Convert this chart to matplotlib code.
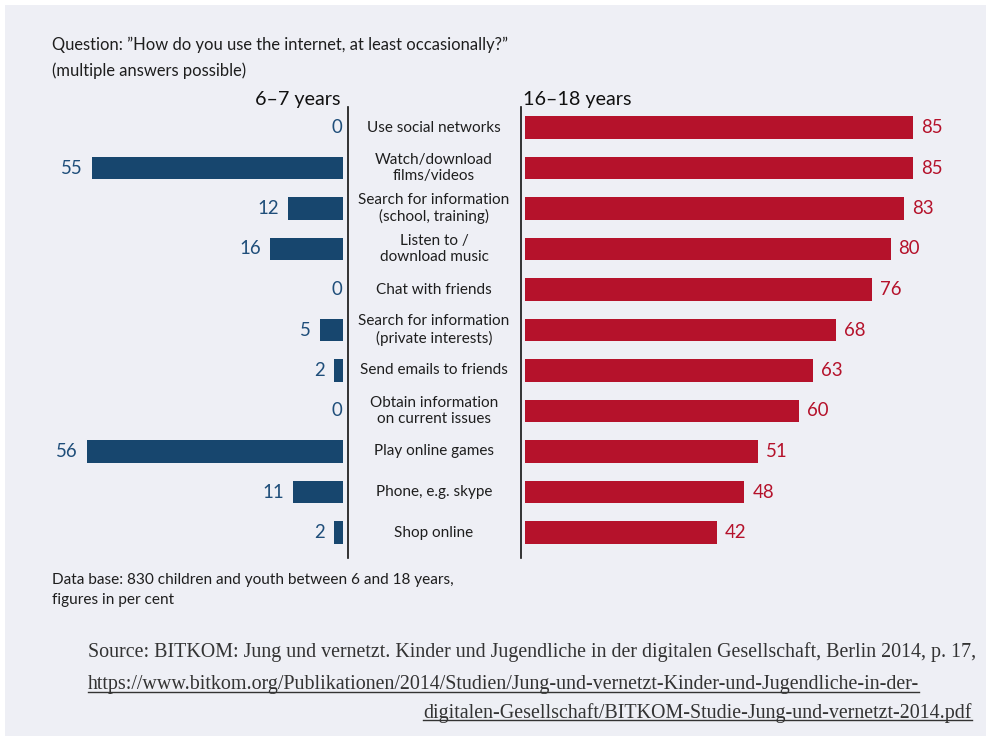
import matplotlib
matplotlib.use("Agg")
import matplotlib.pyplot as plt
from matplotlib.patches import Rectangle
from matplotlib.lines import Line2D
import matplotlib.transforms as mtransforms

# ---------------- data ----------------
categories = [
    "Use social networks",
    "Watch/download\nfilms/videos",
    "Search for information\n(school, training)",
    "Listen to /\ndownload music",
    "Chat with friends",
    "Search for information\n(private interests)",
    "Send emails to friends",
    "Obtain information\non current issues",
    "Play online games",
    "Phone, e.g. skype",
    "Shop online",
]
age_6_7 = [0, 55, 12, 16, 0, 5, 2, 0, 56, 11, 2]
age_16_18 = [85, 85, 83, 80, 76, 68, 63, 60, 51, 48, 42]
group_left = "6–7 years"
group_right = "16–18 years"
title_lines = ["Question: ”How do you use the internet, at least occasionally?”",
               "(multiple answers possible)"]
note_lines = ["Data base: 830 children and youth between 6 and 18 years,",
              "figures in per cent"]
source_lines = [
    "Source: BITKOM: Jung und vernetzt. Kinder und Jugendliche in der digitalen Gesellschaft, Berlin 2014, p. 17,",
    "https://www.bitkom.org/Publikationen/2014/Studien/Jung-und-vernetzt-Kinder-und-Jugendliche-in-der-",
    "digitalen-Gesellschaft/BITKOM-Studie-Jung-und-vernetzt-2014.pdf",
]

# ---------------- style ----------------
W, H = 987, 736
BG = "#EEEFF5"
BLUE = "#17466E"
BLUE_TXT = "#1F4E7A"
RED = "#B5122B"
TXT = "#1E1E1E"
SANS = ["Lato", "DejaVu Sans"]
SERIF = ["Liberation Serif", "DejaVu Serif"]

plt.rcParams["font.family"] = SANS

fig = plt.figure(figsize=(W / 100, H / 100), dpi=100, facecolor="white")

def fx(px):
    return px / W

def fy(py):
    return 1 - py / H

# background panel (behind everything)
fig.patches.append(Rectangle((fx(5), 0), 1 - fx(5), fy(5), transform=fig.transFigure,
                             facecolor=BG, edgecolor="none", zorder=-10))

scale = 4.57          # pixels per percentage point
row0, rowstep = 127.5, 40.5
top_px, bot_px = 107, 558
n = len(categories)
y_top = (top_px - row0) / rowstep
y_bot = (bot_px - row0) / rowstep

left_end = 343
lmax = 60
axL = fig.add_axes([fx(left_end - lmax * scale), fy(bot_px),
                    fx(lmax * scale), (bot_px - top_px) / H])
right_start = 525
rmax = 95
axR = fig.add_axes([fx(right_start), fy(bot_px),
                    fx(rmax * scale), (bot_px - top_px) / H])

ys = list(range(n))
bh = 0.56
axL.barh(ys, age_6_7, height=bh, color=BLUE)
axR.barh(ys, age_16_18, height=bh, color=RED)
axL.set_xlim(lmax, 0)
axR.set_xlim(0, rmax)
for ax in (axL, axR):
    ax.set_ylim(y_bot, y_top)
    ax.axis("off")
    ax.patch.set_visible(False)

for y, v in zip(ys, age_6_7):
    off = -9 if v > 0 else -1
    axL.annotate(str(v), (v, y), xytext=(off * 0.72, 0), textcoords="offset points",
                 ha="right", va="center", fontsize=13.4, color=BLUE_TXT)
for y, v in zip(ys, age_16_18):
    axR.annotate(str(v), (v, y), xytext=(8 * 0.72, 0), textcoords="offset points",
                 ha="left", va="center", fontsize=13.4, color=RED)

# category labels in the middle column
trans = mtransforms.blended_transform_factory(fig.transFigure, axR.transData)
for y, c in zip(ys, categories):
    fig.text(fx(434), y, c, transform=trans, ha="center", va="center",
             fontsize=11, color=TXT, linespacing=1.2)

# vertical separators
for xp in (348, 521):
    fig.add_artist(Line2D([fx(xp), fx(xp)], [fy(top_px), fy(bot_px)],
                          transform=fig.transFigure, color="#111111", lw=1.2))

# group headers
fig.text(fx(341), fy(99), group_left, ha="right", va="center", fontsize=14.2, color="#111111")
fig.text(fx(523), fy(99), group_right, ha="left", va="center", fontsize=14.2, color="#111111")

# title
fig.text(fx(52), fy(45), title_lines[0], ha="left", va="center", fontsize=11.9, color=TXT)
fig.text(fx(52), fy(71), title_lines[1], ha="left", va="center", fontsize=11.9, color=TXT)

# note
fig.text(fx(52), fy(580), note_lines[0], ha="left", va="center", fontsize=11.1, color=TXT)
fig.text(fx(52), fy(600), note_lines[1], ha="left", va="center", fontsize=11.1, color=TXT)

# source
s1 = fig.text(fx(88), fy(652), source_lines[0], ha="left", va="center",
              fontsize=14.4, color="#333333", family=SERIF)
s2 = fig.text(fx(88), fy(685), source_lines[1], ha="left", va="center",
              fontsize=14.4, color="#333333", family=SERIF)
s3 = fig.text(fx(972), fy(713), source_lines[2], ha="right", va="center",
              fontsize=14.4, color="#333333", family=SERIF)

fig.canvas.draw()
r = fig.canvas.get_renderer()
for t in (s2, s3):
    bb = t.get_window_extent(r)
    yline = bb.y0 + 3
    fig.add_artist(Line2D([bb.x0 / W, bb.x1 / W], [yline / H, yline / H],
                          transform=fig.transFigure, color="#333333", lw=1.0))

fig.savefig("out.png", dpi=100, facecolor="white")
